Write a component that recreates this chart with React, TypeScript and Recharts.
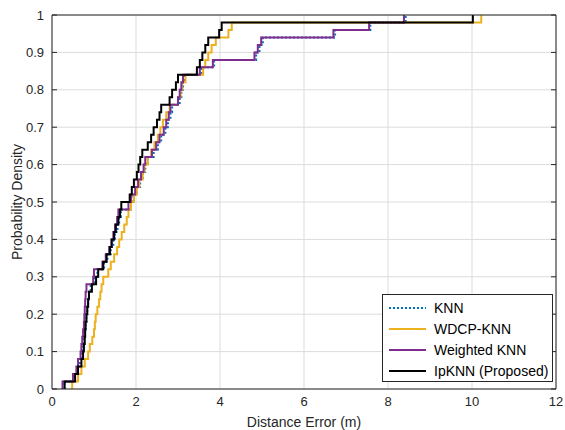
import { LineChart, Line, XAxis, YAxis, CartesianGrid, Legend } from "recharts";

const xTicks = [0, 2, 4, 6, 8, 10, 12];
const yTicks = [0, 0.1, 0.2, 0.3, 0.4, 0.5, 0.6, 0.7, 0.8, 0.9, 1];

const knnErrors = [
  0.3, 0.52, 0.6, 0.66, 0.72, 0.74, 0.76, 0.78, 0.8, 0.82,
  0.84, 0.86, 0.88, 0.92, 1.02, 1.08, 1.24, 1.32, 1.4, 1.46,
  1.5, 1.56, 1.6, 1.64, 1.88, 1.94, 2.02, 2.1, 2.16, 2.22,
  2.28, 2.42, 2.52, 2.6, 2.7, 2.76, 2.82, 2.86, 3.04, 3.08,
  3.12, 3.16, 3.56, 3.86, 4.86, 4.94, 5.02, 6.74, 7.58, 8.42,
];
const wdcpErrors = [
  0.48, 0.62, 0.7, 0.78, 0.86, 0.9, 0.96, 1.0, 1.02, 1.04,
  1.08, 1.12, 1.15, 1.18, 1.22, 1.34, 1.4, 1.48, 1.55, 1.6,
  1.66, 1.72, 1.78, 1.82, 1.88, 1.95, 2.02, 2.08, 2.16, 2.2,
  2.28, 2.36, 2.44, 2.52, 2.58, 2.64, 2.72, 2.8, 3.0, 3.06,
  3.1, 3.18, 3.6, 3.65, 3.72, 3.8, 3.9, 4.2, 4.28, 10.22,
];
const weightedErrors = [
  0.25, 0.5, 0.58, 0.62, 0.68, 0.7, 0.72, 0.74, 0.76, 0.77,
  0.78, 0.79, 0.8, 0.82, 0.98, 1.0, 1.2, 1.28, 1.36, 1.42,
  1.46, 1.5, 1.55, 1.58, 1.82, 1.88, 1.98, 2.05, 2.12, 2.18,
  2.22, 2.38, 2.48, 2.56, 2.66, 2.72, 2.78, 2.82, 3.0, 3.04,
  3.08, 3.12, 3.52, 3.83, 4.82, 4.9, 4.98, 6.7, 7.55, 8.38,
];
const ipknnErrors = [
  0.3, 0.55, 0.62, 0.7, 0.74, 0.76, 0.78, 0.79, 0.8, 0.82,
  0.84, 0.86, 0.88, 0.95, 1.05, 1.1, 1.22, 1.3, 1.38, 1.42,
  1.48, 1.52, 1.58, 1.62, 1.65, 1.85, 1.9, 1.95, 2.02, 2.06,
  2.1, 2.15, 2.28, 2.36, 2.42, 2.5, 2.56, 2.6, 2.8, 2.86,
  2.95, 3.0, 3.45, 3.52, 3.58, 3.65, 3.72, 3.98, 4.04, 10.02,
];

const seriesNames = ["KNN", "WDCP-KNN", "Weighted KNN", "IpKNN (Proposed)"];
const seriesColors = ["#0072BD", "#EDB120", "#7E2F8E", "#000000"];

// empirical CDF points: start at 0, step up 1/n at each sorted error
const toCdf = (errors: number[]) => {
  const n = errors.length;
  return [{ x: errors[0], y: 0 }, ...errors.map((e, i) => ({ x: e, y: (i + 1) / n }))];
};

const FONT = "'Liberation Sans', Arial, sans-serif";
const AXIS = "#262626";

const renderLegend = () => (
  <div
    style={{
      border: `1px solid ${AXIS}`,
      background: "#fff",
      padding: "2px 0 2px 6px",
      fontFamily: FONT,
      fontSize: 14,
      color: "#000",
      boxSizing: "border-box",
      width: 171,
      height: 88,
    }}
  >
    {seriesNames.map((name, i) => (
      <div key={name} style={{ display: "flex", alignItems: "center", height: 21 }}>
        <svg width={40} height={6} style={{ marginRight: 5 }}>
          <line
            x1={0}
            y1={3}
            x2={37}
            y2={3}
            stroke={seriesColors[i]}
            strokeWidth={2}
            strokeDasharray={i === 0 ? "2 2" : undefined}
          />
        </svg>
        <span>{name}</span>
      </div>
    ))}
  </div>
);

export default function App() {
  const series = [knnErrors, wdcpErrors, weightedErrors, ipknnErrors].map(toCdf);
  const blank = () => "";

  return (
    <div style={{ position: "absolute", left: 0, top: 0, width: 565, height: 430, overflow: "hidden", background: "#fff" }}>
      <LineChart width={565} height={430} margin={{ top: 15, right: 9, bottom: 1, left: 12 }}>
        <CartesianGrid stroke="#dcdcdc" strokeWidth={1} />
        <XAxis
          dataKey="x"
          type="number"
          domain={[0, 12]}
          ticks={xTicks}
          allowDataOverflow
          height={40}
          tickLine={false}
          axisLine={{ stroke: AXIS }}
          tick={{ fill: AXIS, fontSize: 13, fontFamily: FONT }}
          label={{ value: "Distance Error (m)", position: "insideBottom", offset: 2, fill: AXIS, fontSize: 14, fontFamily: FONT }}
        />
        <YAxis
          type="number"
          domain={[0, 1]}
          ticks={yTicks}
          allowDataOverflow
          width={40}
          tickLine={false}
          axisLine={{ stroke: AXIS }}
          tick={{ fill: AXIS, fontSize: 13, fontFamily: FONT }}
          label={{
            value: "Probability Density",
            angle: -90,
            position: "insideLeft",
            offset: 5,
            fill: AXIS,
            fontSize: 14,
            fontFamily: FONT,
            style: { textAnchor: "middle" },
          }}
        />
        {/* inward tick marks on all four sides, like a MATLAB box */}
        <XAxis xAxisId="bottomTicks" type="number" domain={[0, 12]} ticks={xTicks} allowDataOverflow mirror axisLine={false} tickSize={5} tickLine={{ stroke: AXIS }} tickFormatter={blank} />
        <XAxis xAxisId="top" orientation="top" type="number" domain={[0, 12]} ticks={xTicks} allowDataOverflow mirror axisLine={{ stroke: AXIS }} tickSize={5} tickLine={{ stroke: AXIS }} tickFormatter={blank} />
        <YAxis yAxisId="leftTicks" type="number" domain={[0, 1]} ticks={yTicks} allowDataOverflow mirror axisLine={false} tickSize={5} tickLine={{ stroke: AXIS }} tickFormatter={blank} />
        <YAxis yAxisId="right" orientation="right" type="number" domain={[0, 1]} ticks={yTicks} allowDataOverflow mirror axisLine={{ stroke: AXIS }} tickSize={5} tickLine={{ stroke: AXIS }} tickFormatter={blank} />
        {series.map((data, i) => (
          <Line
            key={seriesNames[i]}
            data={data}
            dataKey="y"
            name={seriesNames[i]}
            type="stepAfter"
            stroke={seriesColors[i]}
            strokeWidth={2}
            strokeDasharray={i === 0 ? "2 2" : undefined}
            dot={false}
            activeDot={false}
            isAnimationActive={false}
          />
        ))}
        <Legend
          layout="vertical"
          align="center"
          verticalAlign="middle"
          content={renderLegend}
          wrapperStyle={{ left: 382, top: 294, width: 171, height: 88 }}
        />
      </LineChart>
    </div>
  );
}
